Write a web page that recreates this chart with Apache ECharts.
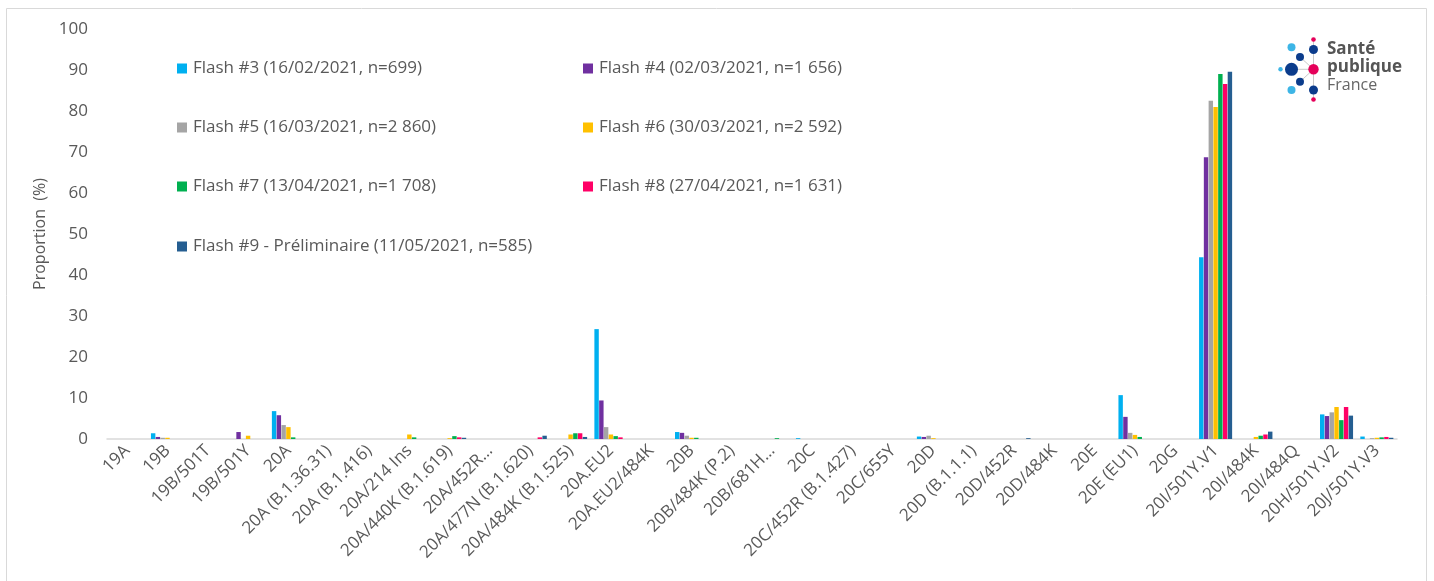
<!DOCTYPE html>
<html>
<head>
<meta charset="utf-8">
<script src="https://cdn.jsdelivr.net/npm/echarts@6/dist/echarts.min.js"></script>
<style>
html,body{margin:0;padding:0;background:#fff;}
#chart{width:1434px;height:581px;}
</style>
</head>
<body>
<div id="chart"></div>
<script>
// ---- Data ----
const categories = [
  '19A','19B','19B/501T','19B/501Y','20A','20A (B.1.36.31)','20A (B.1.416)','20A/214 Ins',
  '20A/440K (B.1.619)','20A/452R…','20A/477N (B.1.620)','20A/484K (B.1.525)','20A.EU2','20A.EU2/484K',
  '20B','20B/484K (P.2)','20B/681H…','20C','20C/452R (B.1.427)','20C/655Y','20D','20D (B.1.1.1)',
  '20D/452R','20D/484K','20E','20E (EU1)','20G','20I/501Y.V1','20I/484K','20I/484Q','20H/501Y.V2','20J/501Y.V3'
];
const seriesNames = [
  'Flash #3 (16/02/2021, n=699)',
  'Flash #4 (02/03/2021, n=1 656)',
  'Flash #5 (16/03/2021, n=2 860)',
  'Flash #6 (30/03/2021, n=2 592)',
  'Flash #7 (13/04/2021, n=1 708)',
  'Flash #8 (27/04/2021, n=1 631)',
  'Flash #9 - Préliminaire (11/05/2021, n=585)'
];
//                 19A 19B 501T 501Y 20A  B1.36 B416 214  440K 452R 477N 484K EU2  EU2/4 20B  P.2  681H 20C  452R 655Y 20D  B111 D452 D484 20E  EU1  20G  V1    I484 I484Q V2  V3
const flash3 =    [0, 1.4, 0,  0,   6.8, 0,    0,   0,   0,   0,   0,   0,   26.8, 0,   1.7, 0,   0,   0.2, 0,   0,   0.6, 0,   0,   0,   0,   10.7, 0,  44.3, 0,   0,   6.0, 0.6];
const flash4 =    [0, 0.5, 0,  1.7, 5.8, 0,    0,   0,   0,   0,   0,   0,   9.4,  0,   1.5, 0,   0,   0,   0,   0,   0.5, 0,   0,   0,   0,   5.4,  0,  68.7, 0,   0,   5.6, 0];
const flash5 =    [0, 0.3, 0,  0,   3.4, 0,    0,   0,   0,   0,   0,   0,   2.9,  0,   0.8, 0,   0,   0,   0,   0,   0.8, 0,   0,   0,   0,   1.5,  0,  82.5, 0,   0,   6.5, 0.2];
const flash6 =    [0, 0.3, 0,  0.8, 2.9, 0,    0,   1.1, 0.2, 0,   0,   1.1, 1.1,  0,   0.3, 0,   0,   0,   0,   0,   0.2, 0,   0,   0,   0,   1.0,  0,  81.0, 0.5, 0,   7.8, 0.3];
const flash7 =    [0, 0,   0,  0,   0.4, 0,    0,   0.4, 0.7, 0,   0,   1.4, 0.7,  0,   0.3, 0,   0.2, 0,   0,   0,   0,   0,   0,   0,   0,   0.5,  0,  89.0, 0.8, 0,   4.6, 0.4];
const flash8 =    [0, 0,   0,  0,   0,   0,    0,   0,   0.4, 0,   0.4, 1.4, 0.4,  0,   0,   0,   0,   0,   0,   0,   0,   0,   0,   0,   0,   0,    0,  86.6, 1.1, 0,   7.8, 0.5];
const flash9 =    [0, 0,   0,  0,   0,   0,    0,   0,   0.3, 0,   0.8, 0.5, 0,    0,   0,   0,   0,   0,   0,   0,   0,   0,   0.2, 0,   0,   0,    0,  89.6, 1.8, 0,   5.7, 0.3];
const seriesValues = [flash3, flash4, flash5, flash6, flash7, flash8, flash9];
const yTicks = { min: 0, max: 100, interval: 10 };

// ---- Styles ----
const colors = ['#00B0F0','#7030A0','#A5A5A5','#FFC000','#00B050','#FF0066','#255E91'];
const FONT = 'Open Sans';
const TXT = '#595959';

const chart = echarts.init(document.getElementById('chart'), null, {renderer:'canvas'});

const legendPos = [
  [177, 60], [583, 60],
  [177, 119], [583, 119],
  [177, 178], [583, 178],
  [177, 238]
];
const legends = seriesNames.map((n, i) => ({
  data: [n],
  left: legendPos[i][0],
  top: legendPos[i][1],
  padding: 0,
  icon: 'rect',
  itemWidth: 10,
  itemHeight: 10,
  itemGap: 0,
  selectedMode: false,
  textStyle: { fontFamily: FONT, fontSize: 17, color: TXT, padding: [0,0,0,1] }
}));

// logo
const dots = [
  [1313.5, 39.5, 2.3, '#E5005A'],
  [1313.5, 49.5, 4.5, '#0B3C8C'],
  [1291.5, 47.3, 4.0, '#3DB5E6'],
  [1300, 57, 4.0, '#0B3C8C'],
  [1280.5, 69.3, 2.2, '#3DB5E6'],
  [1291.5, 69.3, 6.5, '#0B3C8C'],
  [1313.5, 69.3, 5.2, '#E5005A'],
  [1300, 81.7, 4.0, '#0B3C8C'],
  [1291.5, 90, 4.0, '#3DB5E6'],
  [1313.5, 90, 4.5, '#0B3C8C'],
  [1313.5, 99.5, 2.3, '#E5005A']
];
const logoLines = [
  [1313.5, 40, 1313.5, 99.3],
  [1291.5, 69.3, 1313.5, 69.3],
  [1300, 57, 1313.5, 69.3],
  [1300, 81.7, 1313.5, 69.3]
];
const graphics = [
  { type: 'rect', shape: { x: 6.5, y: 8.5, width: 1420, height: 580 }, style: { fill: 'none', stroke: '#D9D9D9', lineWidth: 1 }, z: -1 }
];
logoLines.forEach(l => graphics.push({ type: 'line', shape: { x1: l[0], y1: l[1], x2: l[2], y2: l[3] }, style: { stroke: '#C8C8C8', lineWidth: 1 } }));
dots.forEach(d => graphics.push({ type: 'circle', shape: { cx: d[0], cy: d[1], r: d[2] }, style: { fill: d[3] } }));
graphics.push({ type: 'text', left: 1327, top: 41, style: { text: 'Santé', font: 'bold 17px "Open Sans"', fill: '#555555' } });
graphics.push({ type: 'text', left: 1327, top: 59, style: { text: 'publique', font: 'bold 17px "Open Sans"', fill: '#555555' } });
graphics.push({ type: 'text', left: 1327, top: 77, style: { text: 'France', font: '16px "Open Sans"', fill: '#666666' } });

const option = {
  animation: false,
  color: colors,
  textStyle: { fontFamily: FONT },
  legend: legends,
  graphic: graphics,
  grid: { left: 107, right: 37, top: 29, bottom: 142, containLabel: false },
  xAxis: {
    type: 'category',
    data: categories,
    axisLine: { lineStyle: { color: '#D9D9D9', width: 1.5 } },
    axisTick: { show: false },
    axisLabel: { rotate: 45, interval: 0, margin: 9, color: TXT, fontSize: 17, fontFamily: FONT }
  },
  yAxis: {
    type: 'value',
    min: yTicks.min, max: yTicks.max, interval: yTicks.interval,
    name: 'Proportion  (%)',
    nameLocation: 'middle',
    nameGap: 47,
    nameTextStyle: { color: TXT, fontSize: 16, fontFamily: FONT },
    axisLine: { show: false },
    axisTick: { show: false },
    splitLine: { show: false },
    axisLabel: { color: TXT, fontSize: 17, fontFamily: FONT, margin: 19 }
  },
  series: seriesNames.map((n, i) => ({
    name: n,
    type: 'bar',
    data: seriesValues[i],
    barGap: '8%',
    barCategoryGap: '18%',
    itemStyle: { color: colors[i] }
  }))
};
chart.setOption(option);
</script>
</body>
</html>
